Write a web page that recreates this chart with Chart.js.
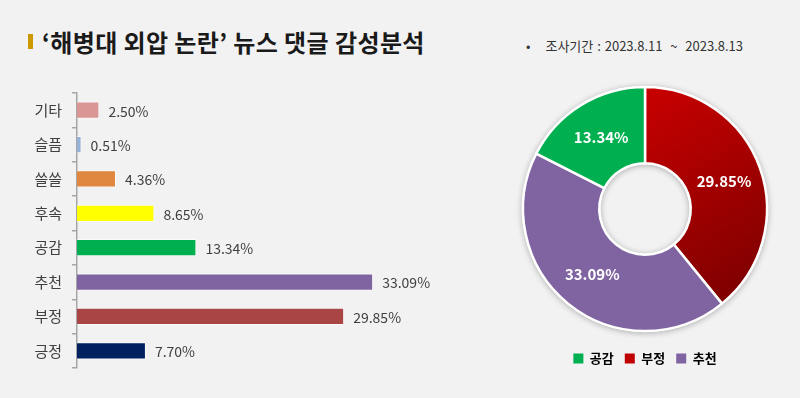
<!DOCTYPE html>
<html>
<head>
<meta charset="utf-8">
<script src="https://cdn.jsdelivr.net/npm/chart.js"></script>
<style>
  body { margin: 0; background: #f2f2f2; font-family: "Noto Sans CJK KR", sans-serif; }
  #wrap { position: relative; width: 800px; height: 398px; overflow: hidden; }
  .title { position: absolute; left: 42px; top: 24px; font-size: 24px; font-weight: bold; color: #1a1a1a; letter-spacing: 0.4px; }
  .mark { position: absolute; left: 28px; top: 34px; width: 5px; height: 15px; background: #cc9900; }
  .period { position: absolute; left: 526px; top: 36px; font-size: 13px; color: #333; word-spacing: 1px; }
  .period span { margin-right: 15px; }
  #bar { position: absolute; left: 0; top: 74px; }
  #pie { position: absolute; left: 510px; top: 77px; }
</style>
</head>
<body>
<div id="wrap">
  <div class="mark"></div>
  <div class="title">‘해병대 외압 논란’ 뉴스 댓글 감성분석</div>
  <div class="period"><span>•</span>조사기간 : 2023.8.11 &nbsp;~ &nbsp;2023.8.13</div>
  <canvas id="bar" width="460" height="313"></canvas>
  <canvas id="pie" width="270" height="298"></canvas>
</div>
<script>
const barLabels = ['기타', '슬픔', '쓸쓸', '후속', '공감', '추천', '부정', '긍정'];
const barValues = [2.50, 0.51, 4.36, 8.65, 13.34, 33.09, 29.85, 7.70];
const barColors = ['#d99694', '#95b3d7', '#e0883f', '#ffff00', '#00b050', '#8064a2', '#a94545', '#002060'];

const pieLabels = ['부정', '추천', '공감'];
const pieValues = [29.85, 33.09, 13.34];
const pieColors = ['#c00000', '#8064a2', '#00b050'];
const legendOrder = ['공감', '부정', '추천'];

const FONT = '"Noto Sans CJK KR", sans-serif';

// value labels to the right of bars
const barValuePlugin = {
  id: 'barValues',
  afterDatasetsDraw(chart) {
    const ctx = chart.ctx;
    const meta = chart.getDatasetMeta(0);
    ctx.save();
    ctx.font = '14px ' + FONT;
    ctx.fillStyle = '#404040';
    ctx.textBaseline = 'middle';
    meta.data.forEach((bar, i) => {
      ctx.fillText(barValues[i].toFixed(2) + '%', bar.x + 9, bar.y + 1);
    });
    ctx.restore();
  }
};

new Chart(document.getElementById('bar'), {
  type: 'bar',
  data: {
    labels: barLabels,
    datasets: [{
      data: barValues,
      backgroundColor: barColors,
      borderColor: 'rgba(255,255,255,0.6)',
      borderWidth: 1,
      barPercentage: 1,
      categoryPercentage: 0.5
    }]
  },
  options: {
    indexAxis: 'y',
    responsive: false,
    animation: false,
    layout: { padding: { top: 0, bottom: 0, left: 0, right: 25 } },
    plugins: { legend: { display: false }, tooltip: { enabled: false } },
    scales: {
      x: { display: false, min: 0, max: 40 },
      y: {
        afterFit(scale) { scale.width = 77; },
        border: { color: '#a6a6a6', width: 1.5 },
        grid: { offset: true, drawOnChartArea: false, tickLength: 5, color: '#a6a6a6', lineWidth: 1.5 },
        ticks: { color: '#404040', font: { family: FONT, size: 15 }, padding: 10 }
      }
    }
  },
  plugins: [barValuePlugin]
});

// white ring with soft shadow behind the doughnut, and the white value labels
const ringPlugin = {
  id: 'ringShadow',
  beforeDatasetsDraw(chart) {
    const arc = chart.getDatasetMeta(0).data[0];
    const ctx = chart.ctx;
    ctx.save();
    ctx.beginPath();
    ctx.arc(arc.x, arc.y, arc.outerRadius + 1, 0, Math.PI * 2);
    ctx.arc(arc.x, arc.y, arc.innerRadius - 1, 0, Math.PI * 2, true);
    ctx.fillStyle = '#ffffff';
    ctx.shadowColor = 'rgba(0,0,0,0.3)';
    ctx.shadowBlur = 6;
    ctx.shadowOffsetY = 1;
    ctx.fill();
    ctx.restore();
  },
  afterDatasetsDraw(chart) {
    const ctx = chart.ctx;
    ctx.save();
    ctx.font = 'bold 15px ' + FONT;
    ctx.fillStyle = '#ffffff';
    ctx.textAlign = 'center';
    ctx.textBaseline = 'middle';
    chart.getDatasetMeta(0).data.forEach((a, i) => {
      const mid = (a.startAngle + a.endAngle) / 2;
      const r = (a.innerRadius + a.outerRadius) / 2;
      ctx.fillText(pieValues[i].toFixed(2) + '%', a.x + Math.cos(mid) * r, a.y + Math.sin(mid) * r);
    });
    ctx.restore();
  }
};

function sliceFill(context) {
  const i = context.dataIndex;
  if (pieLabels[i] !== '부정') return pieColors[i];
  const chart = context.chart;
  const area = chart.chartArea;
  if (!area) return pieColors[i];
  const cx = (area.left + area.right) / 2, cy = (area.top + area.bottom) / 2;
  const g = chart.ctx.createLinearGradient(cx, cy - 120, cx + 120, cy + 90);
  g.addColorStop(0, '#c80000');
  g.addColorStop(1, '#7a0000');
  return g;
}

new Chart(document.getElementById('pie'), {
  type: 'doughnut',
  data: {
    labels: pieLabels,
    datasets: [{
      data: pieValues,
      backgroundColor: sliceFill,
      borderColor: '#ffffff',
      borderWidth: 2.5,
      radius: 122,
      cutout: 49
    }]
  },
  options: {
    responsive: false,
    animation: false,
    plugins: {
      tooltip: { enabled: false },
      legend: {
        position: 'bottom',
        labels: {
          boxWidth: 10,
          boxHeight: 10,
          padding: 11,
          color: '#404040',
          font: { family: FONT, size: 13, weight: 'bold' },
          generateLabels() {
            return legendOrder.map(name => {
              const i = pieLabels.indexOf(name);
              return { text: name, fillStyle: pieColors[i], strokeStyle: pieColors[i], lineWidth: 0, index: i };
            });
          }
        }
      }
    }
  },
  plugins: [ringPlugin]
});
</script>
</body>
</html>
